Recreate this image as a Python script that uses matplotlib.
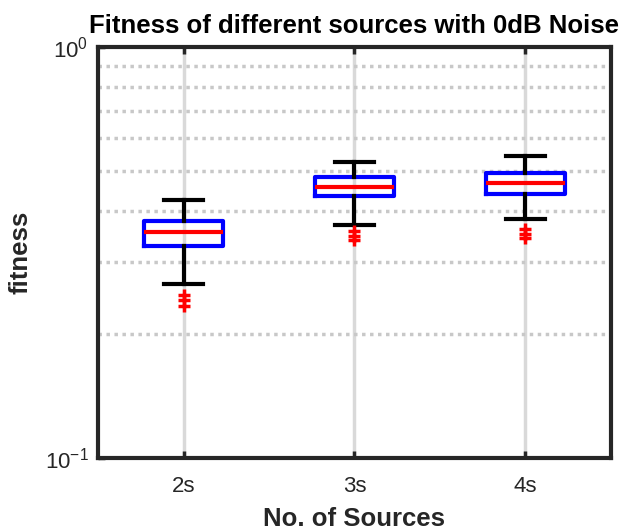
import matplotlib
matplotlib.use("Agg")
import matplotlib.pyplot as plt

plt.rcParams['font.family'] = ['Liberation Sans', 'DejaVu Sans']
plt.rcParams['mathtext.fontset'] = 'custom'
plt.rcParams['mathtext.rm'] = 'Liberation Sans'

categories = ["2s", "3s", "4s"]
whisker_low = [0.265, 0.369, 0.381]
q1 = [0.328, 0.434, 0.439]
median = [0.355, 0.456, 0.467]
q3 = [0.378, 0.483, 0.493]
whisker_high = [0.425, 0.525, 0.543]
outliers = [[0.249, 0.242, 0.234], [0.356, 0.348, 0.340], [0.360, 0.352, 0.344]]

fig = plt.figure(figsize=(6.29, 5.31), dpi=100)
ax = fig.add_axes([0.156, 0.1375, 0.815, 0.7735])

positions = [2, 3, 4]
stats = []
for i, c in enumerate(categories):
    stats.append(dict(label=c, whislo=whisker_low[i], q1=q1[i], med=median[i],
                      q3=q3[i], whishi=whisker_high[i], fliers=outliers[i]))

ax.set_yscale('log')
ax.set_ylim(0.1, 1.0)
ax.set_xlim(1.5, 4.5)

# grid: solid light vertical lines, dotted horizontal minor lines
for x in positions:
    ax.axvline(x, color='#d9d9d9', lw=2.5, zorder=0)
for v in [0.2, 0.3, 0.4, 0.5, 0.6, 0.7, 0.8, 0.9]:
    ax.axhline(v, color='#c8c8c8', lw=2.5, ls=(0, (1, 1.3)), zorder=0)

ax.bxp(stats, positions=positions, widths=0.46, showfliers=True,
       boxprops=dict(color='blue', lw=3, solid_joinstyle='round'),
       medianprops=dict(color='red', lw=3),
       whiskerprops=dict(color='black', lw=3, ls='-'),
       capprops=dict(color='black', lw=3),
       capwidths=0.23,
       flierprops=dict(marker='+', markeredgecolor='red', markersize=8,
                       markeredgewidth=2.5, linestyle='none'),
       manage_ticks=False)

ax.set_xticks(positions)
ax.set_xticklabels(categories, fontsize=16, color='#262626')
ax.set_yticks([0.1, 1.0])
ax.set_yticklabels([r'$10^{-1}$', r'$10^{0}$'], fontsize=16, color='#262626')
ax.yaxis.set_minor_locator(matplotlib.ticker.NullLocator())
ax.tick_params(axis='both', which='major', direction='in', length=5, width=2.5,
               color='#262626', pad=7, top=True, right=False)
ax.tick_params(axis='x', pad=13)

for s in ax.spines.values():
    s.set_linewidth(3)
    s.set_color('#262626')

ax.set_title('Fitness of different sources with 0dB Noise', fontsize=18.5,
             fontweight='bold', pad=10)
ax.set_xlabel('No. of Sources', fontsize=18.5, fontweight='bold', color='#262626',
              labelpad=7)
ax.set_ylabel('fitness', fontsize=18.5, fontweight='bold', color='#262626',
              labelpad=9)

fig.savefig('out.png', dpi=100)
